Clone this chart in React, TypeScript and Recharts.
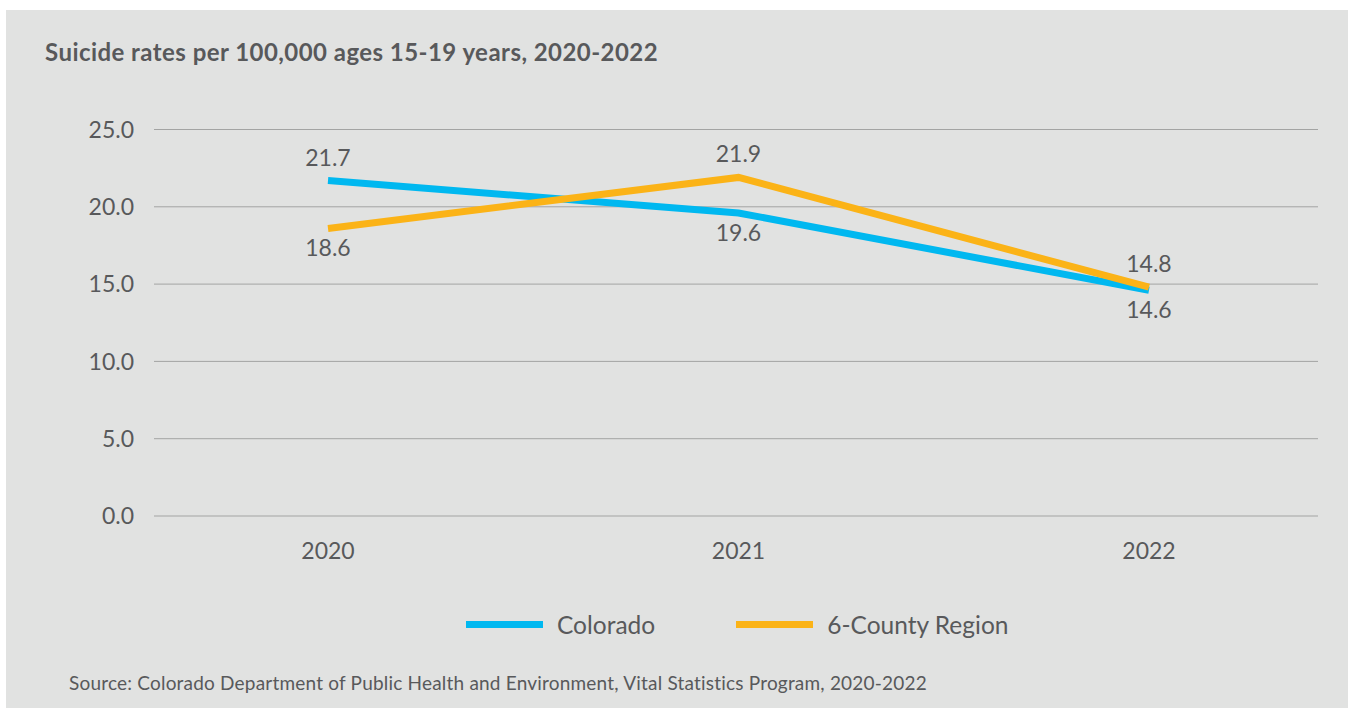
import React from "react"
import { CartesianGrid, LabelList, Line, LineChart, XAxis, YAxis } from "recharts"

const years = ["2020", "2021", "2022"]
const colorado = [21.7, 19.6, 14.6]
const sixCounty = [18.6, 21.9, 14.8]
const yTicks = [0, 5, 10, 15, 20, 25]

const data = years.map((year, i) => ({
  year,
  colorado: colorado[i],
  sixCounty: sixCounty[i],
}))

const BLUE = "#00b8f0"
const ORANGE = "#fbb317"
const TEXT = "#58595b"
const FONT = "Lato, 'Open Sans', sans-serif"

// which side of the point each value label sits on
const coloradoSide = ["top", "bottom", "bottom"]
const sixCountySide = ["bottom", "top", "top"]

function makeLabel(sides: string[]) {
  return (props: any) => {
    const { x, y, value, index } = props
    const above = sides[index] === "top"
    return (
      <text
        x={x}
        y={above ? y - 15 : y + 28}
        textAnchor="middle"
        fill={TEXT}
        fontSize={23}
        fontFamily={FONT}
      >
        {Number(value).toFixed(1)}
      </text>
    )
  }
}

function LegendItem({ color, label }: { color: string; label: string }) {
  return (
    <div style={{ display: "flex", alignItems: "center" }}>
      <div style={{ width: 77, height: 7, background: color }} />
      <span style={{ marginLeft: 14, fontSize: 24.5, color: TEXT }}>{label}</span>
    </div>
  )
}

export default function App() {
  return (
    <div
      style={{
        position: "absolute",
        left: 0,
        top: 0,
        width: 1348,
        height: 708,
        background: "#ffffff",
        fontFamily: FONT,
      }}
    >
      <div
        style={{
          position: "absolute",
          left: 6,
          top: 10,
          width: 1342,
          height: 698,
          background: "#e1e2e1",
        }}
      >
        <div
          style={{
            position: "absolute",
            left: 39,
            top: 27,
            fontSize: 24,
            fontWeight: 700,
            color: TEXT,
            letterSpacing: 0.45,
            whiteSpace: "nowrap",
          }}
        >
          Suicide rates per 100,000 ages 15-19 years, 2020-2022
        </div>

        <div style={{ position: "absolute", left: 0, top: 0 }}>
          <LineChart
            width={1342}
            height={698}
            data={data}
            margin={{ top: 119.5, right: 30, bottom: 152, left: 88 }}
          >
            <CartesianGrid vertical={false} stroke="#a3a4a3" strokeWidth={1} />
            <XAxis
              dataKey="year"
              axisLine={false}
              tickLine={false}
              tickSize={0}
              tickMargin={27}
              height={40}
              padding={{ left: 174, right: 169 }}
              tick={{ fill: TEXT, fontSize: 23, fontFamily: FONT }}
            />
            <YAxis
              domain={[0, 25]}
              ticks={yTicks}
              axisLine={false}
              tickLine={false}
              tickSize={0}
              tickMargin={20}
              width={60}
              tickFormatter={(v: number) => v.toFixed(1)}
              tick={{ fill: TEXT, fontSize: 23, fontFamily: FONT }}
            />
            <Line
              dataKey="colorado"
              type="linear"
              stroke={BLUE}
              strokeWidth={7}
              strokeLinecap="butt"
              dot={false}
              activeDot={false}
              isAnimationActive={false}
            >
              <LabelList dataKey="colorado" content={makeLabel(coloradoSide)} />
            </Line>
            <Line
              dataKey="sixCounty"
              type="linear"
              stroke={ORANGE}
              strokeWidth={7}
              strokeLinecap="butt"
              dot={false}
              activeDot={false}
              isAnimationActive={false}
            >
              <LabelList dataKey="sixCounty" content={makeLabel(sixCountySide)} />
            </Line>
          </LineChart>
        </div>

        <div
          style={{
            position: "absolute",
            left: 460,
            top: 600,
            display: "flex",
            gap: 81,
          }}
        >
          <LegendItem color={BLUE} label="Colorado" />
          <LegendItem color={ORANGE} label="6-County Region" />
        </div>

        <div
          style={{
            position: "absolute",
            left: 63,
            top: 661,
            fontSize: 19,
            color: TEXT,
            letterSpacing: 0.2,
            whiteSpace: "nowrap",
          }}
        >
          Source: Colorado Department of Public Health and Environment, Vital Statistics Program, 2020-2022
        </div>
      </div>
    </div>
  )
}
